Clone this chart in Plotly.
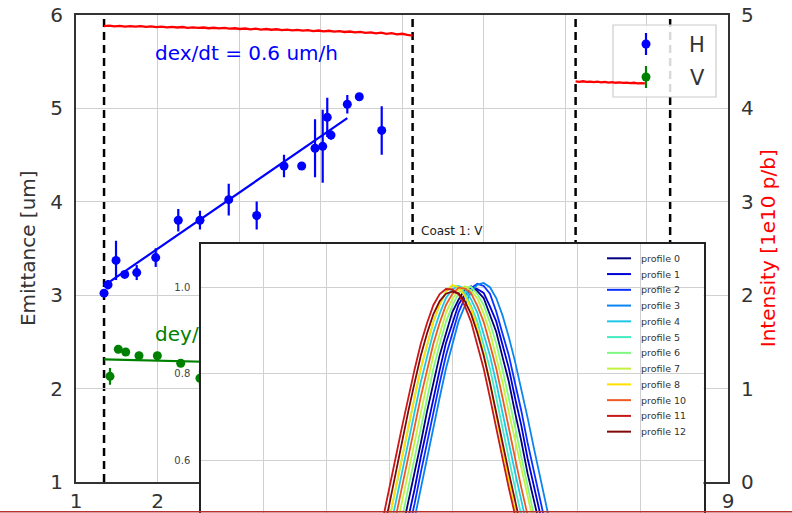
import plotly.graph_objects as go

FONT = "DejaVu Sans"
W, H = 792, 513

# ---------------------------------------------------------------- data
# coast start/end times [h]
coast_bounds = [1.344, 5.13, 7.13, 8.29]

# horizontal emittance during coast 1
t_h = [1.344, 1.393, 1.491, 1.598, 1.745, 1.978, 2.255, 2.521, 2.874, 3.217,
       3.552, 3.769, 3.933, 4.027, 4.083, 4.129, 4.329, 4.476, 4.751]
ex = [3.02, 3.11, 3.37, 3.22, 3.24, 3.40, 3.80, 3.80, 4.02, 3.85,
      4.38, 4.38, 4.57, 4.59, 4.90, 4.71, 5.04, 5.12, 4.76]
ex_err = [0.03, 0.05, 0.21, 0.03, 0.08, 0.10, 0.12, 0.10, 0.17, 0.15,
          0.12, 0.02, 0.31, 0.39, 0.21, 0.05, 0.10, 0.02, 0.26]

# vertical emittance during coast 1
t_v = [1.417, 1.519, 1.610, 1.773, 1.998, 2.285, 2.521, 2.800, 3.200,
       3.550, 3.930, 4.100, 4.330, 4.480, 4.750]
ey = [2.13, 2.42, 2.39, 2.35, 2.35, 2.27, 2.11, 2.25, 2.20,
      2.30, 2.25, 2.28, 2.20, 2.27, 2.24]
ey_err = [0.09, 0.04, 0.03, 0.03, 0.03, 0.03, 0.08, 0.05, 0.06,
          0.05, 0.07, 0.05, 0.06, 0.04, 0.08]

# linear growth fits (slope in um/h)
h_fit_t = [1.344, 4.329]
h_fit_start = 3.10
h_slope = 0.6
v_fit_t = [1.344, 4.750]
v_fit_start = 2.312
v_slope = -0.021

# bunch intensity [1e10 p/b] logged during the two coasts
int1 = [4.876, 4.880, 4.874, 4.878, 4.871, 4.875, 4.870, 4.876, 4.868, 4.872,
        4.866, 4.871, 4.863, 4.868, 4.861, 4.866, 4.858, 4.863, 4.857, 4.861,
        4.853, 4.858, 4.851, 4.856, 4.848, 4.853, 4.845, 4.850, 4.842, 4.848,
        4.839, 4.845, 4.837, 4.842, 4.833, 4.839, 4.830, 4.836, 4.827, 4.833,
        4.823, 4.829, 4.820, 4.826, 4.816, 4.822, 4.813, 4.818, 4.808, 4.814,
        4.803, 4.809, 4.798, 4.805, 4.793, 4.800, 4.788, 4.794, 4.781, 4.775]
int2 = [4.284, 4.280, 4.286, 4.279, 4.283, 4.276, 4.281, 4.274, 4.279, 4.272,
        4.277, 4.270, 4.274, 4.268, 4.272, 4.266, 4.270, 4.264, 4.267, 4.263]
int2_end = 7.98

# vertical beam profiles (normalised), sampled on a common position grid
prof_x = [-1.3, -1.2, -1.1, -1.0, -0.9, -0.8, -0.7, -0.6, -0.5, -0.4, -0.3,
          -0.2, -0.1, 0.0, 0.1, 0.2, 0.3, 0.4, 0.5, 0.6, 0.7, 0.8, 0.9, 1.0,
          1.1, 1.2, 1.3, 1.4, 1.5, 1.6, 1.7]
prof_0 = [.170, .212, .257, .311, .368, .435, .498, .573, .640, .714, .778,
          .843, .893, .942, .971, .995, 1.002, .991, .975, .938, .897, .839,
          .782, .710, .644, .569, .502, .431, .371, .308, .259]
prof_1 = [.153, .189, .234, .282, .340, .398, .467, .533, .608, .676, .748,
          .809, .871, .917, .960, .983, 1.000, .996, .987, .956, .921, .867,
          .813, .744, .680, .604, .537, .464, .402, .337, .284]
prof_2 = [.136, .169, .212, .257, .311, .368, .434, .499, .572, .641, .713,
          .779, .842, .894, .942, .975, .998, 1.008, 1.003, .985, .944, .893,
          .843, .778, .714, .640, .573, .498, .435, .367, .311]
prof_3 = [.121, .151, .191, .232, .284, .338, .401, .465, .536, .605, .679,
          .745, .812, .868, .921, .957, .990, 1.006, 1.010, 1.000, .975, .935,
          .885, .828, .765, .698, .628, .557, .488, .421, .358]
prof_4 = [.259, .309, .370, .432, .501, .570, .643, .711, .781, .840, .896,
          .939, .975, .995, 1.003, .996, .972, .941, .894, .842, .779, .713,
          .641, .572, .499, .434, .368, .311, .257, .212, .169]
prof_5 = [.284, .338, .401, .465, .536, .605, .679, .745, .812, .868, .920,
          .960, .990, 1.004, 1.002, .987, .957, .920, .868, .812, .745, .679,
          .605, .536, .465, .401, .338, .284, .232, .191, .151]
prof_6 = [.191, .232, .284, .338, .401, .465, .536, .605, .679, .745, .812,
          .868, .920, .957, .986, .999, 1.001, .984, .959, .918, .870, .810,
          .747, .677, .607, .534, .467, .399, .340, .282, .234]
prof_7 = [.212, .257, .311, .368, .434, .499, .572, .641, .713, .779, .842,
          .894, .941, .972, .994, 1.002, .992, .974, .939, .896, .840, .781,
          .711, .643, .570, .501, .432, .370, .309, .259, .210]
prof_8 = [.284, .338, .401, .465, .536, .605, .679, .745, .812, .868, .921,
          .960, .990, 1.005, 1.000, .980, .951, .903, .848, .779, .708, .629,
          .553, .475, .405, .336, .278, .223, .179, .138, .108]
prof_10 = [.234, .282, .340, .399, .467, .534, .607, .677, .747, .810, .870,
           .918, .959, .984, .999, .997, .986, .957, .920, .868, .812, .745,
           .679, .605, .536, .465, .401, .338, .284, .232, .191]
prof_11 = [.340, .399, .467, .534, .607, .677, .747, .810, .870, .918, .959,
           .984, .996, .995, .984, .957, .920, .868, .812, .745, .679, .605,
           .536, .465, .401, .338, .284, .232, .191, .151, .121]
prof_12 = [.311, .368, .434, .499, .572, .641, .713, .779, .842, .894, .938,
           .968, .985, .990, .986, .968, .938, .894, .842, .779, .713, .641,
           .572, .499, .434, .368, .311, .257, .212, .169, .136]

profile_labels = ["profile 0", "profile 1", "profile 2", "profile 3",
                  "profile 4", "profile 5", "profile 6", "profile 7",
                  "profile 8", "profile 10", "profile 11", "profile 12"]
profiles = [prof_0, prof_1, prof_2, prof_3, prof_4, prof_5, prof_6, prof_7,
            prof_8, prof_10, prof_11, prof_12]
# jet-like colour sequence over the profile index
profile_colors = ["#000080", "#0000d8", "#0a30ff", "#0a84f0", "#20c8e8",
                  "#40ecc0", "#80f880", "#c4f040", "#ffe000", "#ee5a22",
                  "#c81818", "#800808"]

# ---------------------------------------------------------------- geometry
def px_x(p):
    return p / W


def px_y(p):
    return 1 - p / H


main_x_dom = [px_x(76), px_x(728)]
main_y_dom = [px_y(482), px_y(14.5)]
inset_x_dom = [px_x(201), px_x(703.5)]
inset_y_dom = [0.0, px_y(244)]

x_range = [1, 9]
y_range = [1, 6]
y2_range = [0, 5]
inset_x_range = [-4, 4]
inset_y_range = [0.478, 1.1]

GRID = "#d0d0d0"
SPINE = "#333333"
TICK_FONT = dict(family=FONT, size=20, color="#333333")

fig = go.Figure()

# ---------------------------------------------------------------- main axes
def fit_line(ts, start, slope):
    return [start + slope * (t - ts[0]) for t in ts]


fig.add_trace(go.Scatter(x=h_fit_t, y=fit_line(h_fit_t, h_fit_start, h_slope),
                         mode="lines", line=dict(color="blue", width=2.2),
                         xaxis="x", yaxis="y", hoverinfo="skip"))
fig.add_trace(go.Scatter(x=v_fit_t, y=fit_line(v_fit_t, v_fit_start, v_slope),
                         mode="lines", line=dict(color="green", width=2.2),
                         xaxis="x", yaxis="y", hoverinfo="skip"))

fig.add_trace(go.Scatter(
    x=t_h, y=ex, mode="markers", name="H",
    marker=dict(color="blue", size=9),
    error_y=dict(type="data", array=ex_err, color="blue", thickness=2.2, width=0),
    xaxis="x", yaxis="y"))
fig.add_trace(go.Scatter(
    x=t_v, y=ey, mode="markers", name="V",
    marker=dict(color="green", size=9),
    error_y=dict(type="data", array=ey_err, color="green", thickness=2.2, width=0),
    xaxis="x", yaxis="y"))

# growth-rate labels (as text traces so the inset covers them)
fig.add_trace(go.Scatter(
    x=[1.97], y=[5.567], mode="text", textposition="middle right",
    text=[f"dex/dt = {h_slope:.1f} um/h"],
    textfont=dict(family=FONT, size=20, color="blue"),
    xaxis="x", yaxis="y", hoverinfo="skip"))
fig.add_trace(go.Scatter(
    x=[1.97], y=[2.561], mode="text", textposition="middle right",
    text=[f"dey/dt = {v_slope:.1f} um/h"],
    textfont=dict(family=FONT, size=20, color="green"),
    xaxis="x", yaxis="y", hoverinfo="skip"))

# intensity on the right-hand axis
def spaced(t0, t1, n):
    return [t0 + (t1 - t0) * i / (n - 1) for i in range(n)]


fig.add_trace(go.Scatter(x=spaced(coast_bounds[0], coast_bounds[1], len(int1)),
                         y=int1, mode="lines", line=dict(color="red", width=2.3),
                         xaxis="x", yaxis="y2", hoverinfo="skip"))
fig.add_trace(go.Scatter(x=spaced(coast_bounds[2], int2_end, len(int2)),
                         y=int2, mode="lines", line=dict(color="red", width=2.3),
                         xaxis="x", yaxis="y2", hoverinfo="skip"))

# coast boundaries
for tb in coast_bounds:
    fig.add_shape(type="line", xref="x", yref="y", x0=tb, x1=tb,
                  y0=y_range[0], y1=y_range[1], layer="below",
                  line=dict(color="black", width=2.5, dash="8px,5px"))

# ---------------------------------------------------------------- inset
for lab, vals, col in zip(profile_labels, profiles, profile_colors):
    fig.add_trace(go.Scatter(x=prof_x, y=vals, mode="lines", name=lab,
                             line=dict(color=col, width=1.8),
                             xaxis="x2", yaxis="y3", hoverinfo="skip"))

# ---------------------------------------------------------------- legends
shapes = []
annotations = []

# main legend frame, drawn between grid and traces of the main axes
def dom_to_data(f, rng):
    return rng[0] + f * (rng[1] - rng[0])


lx0 = (px_x(613) - main_x_dom[0]) / (main_x_dom[1] - main_x_dom[0])
lx1 = (px_x(716) - main_x_dom[0]) / (main_x_dom[1] - main_x_dom[0])
ly0 = (px_y(97) - main_y_dom[0]) / (main_y_dom[1] - main_y_dom[0])
ly1 = (px_y(25) - main_y_dom[0]) / (main_y_dom[1] - main_y_dom[0])
shapes.append(dict(type="rect", xref="x", yref="y", layer="between",
                   x0=dom_to_data(lx0, x_range), x1=dom_to_data(lx1, x_range),
                   y0=dom_to_data(ly0, y_range), y1=dom_to_data(ly1, y_range),
                   fillcolor="rgba(255,255,255,0.85)",
                   line=dict(color="#cccccc", width=1.2)))

for (lab, col), yy in zip([("H", "blue"), ("V", "green")], [44, 77]):
    shapes.append(dict(type="line", xref="paper", yref="paper", layer="above",
                       xsizemode="pixel", ysizemode="pixel",
                       xanchor=px_x(646), yanchor=px_y(yy),
                       x0=0, x1=0, y0=-11, y1=11,
                       line=dict(color=col, width=2.2)))
    shapes.append(dict(type="circle", xref="paper", yref="paper", layer="above",
                       xsizemode="pixel", ysizemode="pixel",
                       xanchor=px_x(646), yanchor=px_y(yy),
                       x0=-4.5, x1=4.5, y0=-4.5, y1=4.5,
                       fillcolor=col, line=dict(width=0)))
    annotations.append(dict(text=lab, xref="paper", yref="paper",
                            x=px_x(697), y=px_y(yy + 1), xanchor="center",
                            yanchor="middle", showarrow=False,
                            font=dict(family=FONT, size=21, color="#333333")))

# inset legend
for i, (lab, col) in enumerate(zip(profile_labels, profile_colors)):
    yy = 258.3 + 15.76 * i
    shapes.append(dict(type="line", xref="paper", yref="paper", layer="above",
                       x0=px_x(607), x1=px_x(631), y0=px_y(yy), y1=px_y(yy),
                       line=dict(color=col, width=2)))
    annotations.append(dict(text=lab, xref="paper", yref="paper",
                            x=px_x(639), y=px_y(yy), xanchor="left",
                            yanchor="middle", showarrow=False,
                            font=dict(family=FONT, size=9.5, color="#333333")))

# inset title
annotations.append(dict(text="Coast 1: V", xref="paper", yref="paper",
                        x=(inset_x_dom[0] + inset_x_dom[1]) / 2, y=px_y(231),
                        xanchor="center", yanchor="middle", showarrow=False,
                        font=dict(family=FONT, size=12, color="#222222")))

# thin rule along the bottom edge of the page
shapes.append(dict(type="line", xref="paper", yref="paper", layer="above",
                   x0=0, x1=1, y0=px_y(511.8), y1=px_y(511.8),
                   line=dict(color="#b83232", width=1.5)))

fig.update_layout(
    template="none",
    width=W, height=H,
    margin=dict(l=0, r=0, t=0, b=0, pad=0),
    paper_bgcolor="white", plot_bgcolor="white",
    showlegend=False,
    font=dict(family=FONT, color="#333333"),
    shapes=fig.layout.shapes + tuple(shapes),
    annotations=annotations,
    xaxis=dict(domain=main_x_dom, range=x_range, dtick=1, anchor="y",
               showgrid=True, gridcolor=GRID, gridwidth=1, zeroline=False,
               showline=True, mirror=True, linecolor=SPINE, linewidth=2,
               ticks="", tickfont=TICK_FONT, ticklabelstandoff=0,
               automargin=False),
    yaxis=dict(domain=main_y_dom, range=y_range, dtick=1, anchor="x",
               showgrid=True, gridcolor=GRID, gridwidth=1, zeroline=False,
               showline=True, mirror=True, linecolor=SPINE, linewidth=2,
               ticks="", tickfont=TICK_FONT, ticklabelstandoff=7,
               title=dict(text="Emittance [um]", standoff=9,
                          font=dict(family=FONT, size=20, color="#333333")),
               automargin=False),
    yaxis2=dict(overlaying="y", side="right", anchor="x", range=y2_range,
                dtick=1, showgrid=False, zeroline=False,
                showline=True, linecolor=SPINE, linewidth=2,
                ticks="", tickfont=TICK_FONT, ticklabelstandoff=7,
                title=dict(text="Intensity [1e10 p/b]", standoff=8,
                           font=dict(family=FONT, size=20, color="red")),
                automargin=False),
    xaxis2=dict(domain=inset_x_dom, range=inset_x_range, dtick=1, anchor="y3",
                showgrid=True, gridcolor=GRID, gridwidth=1, zeroline=False,
                showline=True, mirror=True, linecolor="#222222", linewidth=1.5,
                ticks="", showticklabels=False, automargin=False),
    yaxis3=dict(domain=inset_y_dom, range=inset_y_range, tick0=0, dtick=0.2,
                anchor="x2", tickformat=".1f",
                showgrid=True, gridcolor=GRID, gridwidth=1, zeroline=False,
                showline=True, mirror=True, linecolor="#222222", linewidth=1.5,
                ticks="", ticklabelstandoff=7,
                tickfont=dict(family=FONT, size=10, color="#444444"),
                automargin=False),
)

fig.write_html("out.html")
